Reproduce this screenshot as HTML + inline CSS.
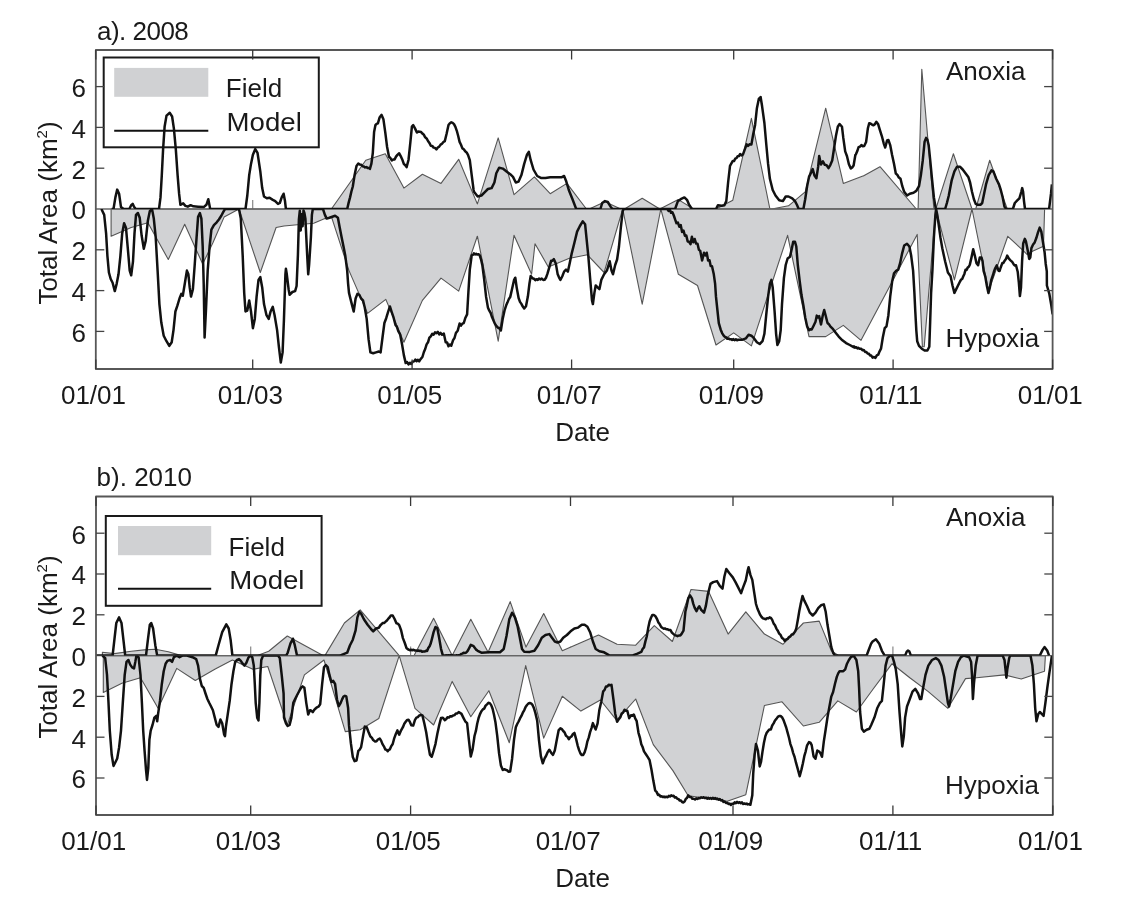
<!DOCTYPE html>
<html><head><meta charset="utf-8"><title>Anoxia and hypoxia area</title>
<style>
html,body{margin:0;padding:0;background:#fff;}
svg{display:block;}
text{font-family:"Liberation Sans", Arial, sans-serif;font-size:26px;fill:#1a1a1a;}
</style></head><body>
<svg width="1130" height="910" viewBox="0 0 1130 910">
<rect width="1130" height="910" fill="#fff"/>
<rect x="103.7" y="57.5" width="215.1" height="89.8" fill="#fff" stroke="#1a1a1a" stroke-width="2"/>
<rect x="114.2" y="67.9" width="94.1" height="28.9" fill="#d0d1d3"/>
<line x1="114.2" y1="130.8" x2="208.3" y2="130.8" stroke="#111" stroke-width="2"/>
<text x="225.8" y="97.0">Field</text>
<text x="226.6" y="130.8" textLength="75.2" lengthAdjust="spacingAndGlyphs">Model</text>
<line x1="252.7" y1="209.0" x2="252.7" y2="200.0" stroke="#888" stroke-width="1.2"/>
<line x1="412.1" y1="209.0" x2="412.1" y2="200.0" stroke="#888" stroke-width="1.2"/>
<line x1="571.6" y1="209.0" x2="571.6" y2="200.0" stroke="#888" stroke-width="1.2"/>
<line x1="733.7" y1="209.0" x2="733.7" y2="200.0" stroke="#888" stroke-width="1.2"/>
<line x1="893.1" y1="209.0" x2="893.1" y2="200.0" stroke="#888" stroke-width="1.2"/>
<polygon points="331.4,209.0 331.4,209.0 365.8,160.2 385.3,153.7 403.9,188.1 422.4,174.2 441.0,183.4 458.7,159.3 477.3,203.9 477.4,203.9 498.2,137.9 514.0,194.6 534.4,176.9 550.2,193.7 566.9,183.4 586.4,209.0 589.2,209.0 605.0,201.7 620.8,209.0 624.5,209.0 642.2,198.3 659.8,209.0 678.3,199.6 693.7,209.0 716.0,209.0 732.8,200.2 751.4,118.4 769.9,209.0 771.8,209.0 788.5,205.8 805.2,191.8 825.7,108.2 843.3,183.4 862.9,176.0 863.3,176.0 880.0,166.7 916.3,209.0 918.1,209.0 921.8,69.2 933.9,209.0 935.8,209.0 953.4,153.7 972.0,209.0 975.7,209.0 989.7,160.2 1007.3,209.0 1007.3,209.0" fill="#d1d2d4" stroke="#555" stroke-width="1.1" stroke-linejoin="round"/>
<polygon points="111.1,209.0 111.1,209.0 111.1,236.2 131.2,227.5 147.9,222.7 168.3,259.5 184.7,224.2 202.7,264.1 212.9,242.7 224.1,217.1 239.0,209.0 260.3,272.5 276.1,227.5 284.0,226.0 302.6,224.2 313.7,223.2 324.9,218.6 331.4,216.7 349.0,270.6 367.6,313.4 385.8,299.4 403.9,342.2 422.4,300.4 441.0,278.1 458.7,291.1 477.3,236.2 477.4,236.2 498.2,341.2 514.0,235.3 531.6,274.3 535.0,243.7 548.3,266.9 568.8,258.5 587.4,254.8 604.1,272.5 622.7,209.0 642.2,304.1 660.8,209.0 678.4,274.3 697.5,285.5 716.0,345.0 733.7,332.9 751.4,345.9 787.6,235.3 809.0,336.6 825.7,336.6 843.3,325.4 861.0,340.3 891.2,283.6 917.2,234.4 922.4,346.8 924.2,346.8 935.8,209.0 954.4,279.9 972.0,209.0 988.6,291.2 1007.8,236.3 1023.2,250.6 1027.0,254.4 1031.4,251.7 1043.5,246.2 1044.6,209.0 1044.6,209.0" fill="#d1d2d4" stroke="#555" stroke-width="1.1" stroke-linejoin="round"/>
<line x1="95.8" y1="209.0" x2="1052.6" y2="209.0" stroke="#666" stroke-width="1.4"/>
<clipPath id="caa"><rect x="95.8" y="50.0" width="956.8" height="159.0"/></clipPath>
<clipPath id="cba"><rect x="95.8" y="209.0" width="956.8" height="160.0"/></clipPath>
<path d="M111.7,209.0 L113.5,209.0 L115.4,197.4 L117.2,189.6 L119.1,193.7 L121.0,207.1 L123.7,209.0 L129.3,209.0 L131.2,205.2 L132.7,203.9 L134.0,206.7 L135.8,209.0 L159.0,209.0 L160.5,197.4 L161.8,175.1 L163.1,149.1 L164.6,126.8 L166.5,115.6 L169.8,112.8 L172.1,116.5 L173.9,128.6 L175.8,149.1 L177.6,175.1 L179.1,193.7 L180.4,204.8 L183.2,203.3 L185.4,205.8 L187.8,206.7 L190.6,205.2 L193.4,206.3 L198.1,206.7 L203.7,207.1 L206.4,204.8 L208.3,199.2 L210.2,209.0 L212.9,209.0 L245.5,209.0 L247.3,195.5 L249.2,175.1 L251.0,163.9 L252.9,154.7 L255.3,149.1 L257.5,152.8 L260.3,171.4 L262.2,188.1 L264.0,196.5 L266.8,198.3 L269.6,197.8 L272.4,199.6 L275.2,201.1 L278.0,203.9 L279.8,203.0 L281.7,197.4 L283.6,193.7 L285.0,201.1 L285.9,209.0 L347.2,209.0 L348.6,202.9 L350.0,197.6 L351.4,191.5 L352.8,186.5 L354.6,175.0 L356.5,165.9 L358.3,163.6 L359.7,164.6 L361.1,164.7 L362.5,166.2 L363.9,166.5 L365.1,167.4 L366.4,167.1 L367.6,167.9 L368.8,168.0 L369.9,168.9 L371.4,163.6 L372.8,153.0 L374.1,132.0 L375.4,125.2 L376.6,123.9 L377.9,123.4 L379.7,117.2 L381.6,114.9 L383.4,119.2 L385.3,132.7 L387.1,147.0 L389.0,156.8 L390.4,158.0 L391.8,160.5 L393.2,159.4 L394.6,159.5 L396.0,156.6 L397.4,154.9 L399.2,153.3 L401.1,156.9 L402.5,160.1 L403.9,164.1 L405.3,165.2 L406.6,167.1 L408.5,160.0 L410.4,141.9 L411.9,126.6 L413.2,125.2 L415.0,128.4 L416.9,132.5 L418.3,131.6 L419.7,131.7 L421.1,132.0 L422.4,133.6 L423.9,134.8 L425.2,137.3 L426.6,138.4 L428.0,141.0 L429.4,142.9 L430.8,145.7 L432.2,145.9 L433.6,147.6 L435.0,147.9 L436.4,149.4 L437.8,147.5 L439.2,146.6 L440.6,144.6 L442.0,143.7 L443.4,142.0 L444.8,141.1 L446.6,133.8 L448.5,125.0 L449.9,123.2 L451.3,122.3 L452.6,122.9 L454.0,124.2 L455.4,126.9 L456.8,130.8 L458.2,136.0 L459.6,141.9 L461.0,144.8 L462.4,148.4 L463.8,149.3 L465.2,151.3 L466.6,152.4 L468.0,154.9 L469.8,160.2 L471.7,175.1 L473.6,190.0 L474.0,191.8 L477.7,196.5 L481.4,195.5 L485.1,191.8 L487.9,189.0 L491.6,188.1 L494.4,182.5 L496.3,173.2 L499.1,167.7 L502.8,168.6 L506.5,171.4 L510.2,174.2 L513.0,176.9 L515.8,182.5 L518.6,181.6 L521.4,175.1 L524.2,163.9 L527.0,154.7 L528.8,151.9 L530.7,160.2 L533.5,169.5 L537.2,176.0 L540.9,177.9 L545.5,177.9 L550.2,177.3 L555.8,177.3 L561.4,177.3 L564.1,176.0 L566.0,180.7 L568.8,190.0 L572.5,199.2 L576.2,209.0 L578.1,209.0 L600.4,209.0 L602.2,203.0 L605.0,201.1 L607.8,202.0 L610.6,206.7 L612.5,209.0 L667.7,209.0 L675.1,209.0 L677.9,201.1 L680.7,199.2 L684.4,197.4 L687.2,200.2 L689.1,204.8 L691.9,209.0 L716.0,209.0 L717.9,205.2 L721.6,205.8 L724.4,205.2 L726.3,201.1 L728.1,182.5 L730.0,165.8 L732.8,160.9 L734.0,161.1 L735.2,158.7 L736.5,158.2 L737.7,156.2 L739.0,156.0 L740.2,154.0 L741.6,155.5 L743.0,154.3 L744.8,149.3 L746.7,144.3 L748.1,145.9 L749.5,144.2 L751.4,144.6 L753.2,134.2 L755.1,124.9 L756.9,108.2 L758.8,98.9 L760.6,97.0 L762.1,106.3 L764.4,123.0 L766.2,143.5 L768.1,163.9 L769.9,178.8 L772.7,190.0 L775.5,195.5 L779.2,200.2 L782.9,201.1 L785.7,196.5 L788.5,196.5 L792.2,198.3 L795.0,201.1 L796.9,204.8 L798.7,209.0 L803.4,209.0 L805.2,199.2 L807.1,186.2 L809.0,176.9 L810.8,173.2 L812.7,169.1 L814.5,175.6 L816.4,178.3 L818.2,166.4 L819.2,155.9 L821.0,164.5 L822.9,161.4 L824.8,164.8 L826.6,165.2 L828.5,168.1 L830.3,165.1 L832.2,160.6 L834.0,148.7 L835.9,136.1 L837.8,126.8 L839.6,124.0 L842.0,126.8 L843.3,137.9 L845.2,151.4 L847.0,156.2 L848.9,164.3 L850.8,168.5 L852.2,167.5 L853.6,165.5 L855.4,154.8 L855.9,154.3 L857.2,151.3 L858.6,147.1 L860.0,146.6 L861.4,145.1 L862.8,146.2 L864.2,146.0 L866.1,142.0 L867.9,128.2 L869.2,123.2 L870.4,123.4 L871.6,124.3 L873.5,125.3 L874.9,124.2 L876.3,121.8 L878.2,124.3 L880.0,130.3 L881.9,136.3 L883.7,143.3 L885.2,147.5 L887.1,140.4 L888.4,140.0 L890.2,145.1 L892.1,155.1 L894.0,163.8 L895.8,173.6 L897.2,174.7 L898.6,177.2 L900.5,178.8 L902.3,186.2 L904.2,191.8 L907.0,195.5 L909.8,193.7 L913.5,192.7 L916.3,190.9 L919.0,186.2 L920.9,175.1 L922.8,160.2 L924.6,141.6 L926.1,137.9 L927.4,139.8 L928.7,145.3 L930.2,160.2 L932.0,178.8 L933.9,197.4 L935.8,209.0 L945.1,209.0 L946.9,203.0 L948.8,195.5 L951.6,180.7 L954.4,171.4 L957.1,166.7 L959.9,166.7 L962.7,169.5 L965.5,173.2 L968.3,176.9 L970.1,182.5 L972.0,191.8 L973.9,199.2 L975.7,203.9 L977.6,204.8 L980.4,204.8 L982.2,203.0 L984.1,193.7 L986.0,184.4 L988.7,175.1 L991.5,170.4 L993.4,171.4 L996.2,178.8 L999.0,184.4 L1000.8,190.0 L1002.7,197.4 L1004.5,206.7 L1006.4,209.0 L1012.9,209.0 L1014.8,203.0 L1017.5,200.2 L1019.4,198.3 L1021.3,191.8 L1022.2,188.1 L1023.1,191.8 L1024.0,201.1 L1025.0,209.0 L1049.1,209.0 L1051.0,193.7 L1051.9,184.4" fill="none" stroke="#111" stroke-width="2.5" stroke-linejoin="round" clip-path="url(#caa)"/>
<path d="M101.4,209.0 L104.2,214.9 L106.1,233.4 L107.4,255.8 L108.9,272.5 L110.7,279.0 L112.6,282.7 L114.8,291.1 L116.7,283.6 L118.5,274.3 L120.4,255.8 L122.2,233.4 L124.1,223.2 L126.0,227.9 L127.8,248.3 L129.7,270.6 L131.2,275.3 L133.0,261.3 L134.5,233.4 L136.0,214.9 L137.9,213.0 L139.7,217.7 L141.6,235.3 L143.8,248.7 L145.7,240.9 L147.9,220.4 L149.8,211.2 L152.0,209.0 L153.8,218.6 L155.7,237.2 L157.6,270.6 L159.4,304.1 L161.3,322.6 L163.7,335.7 L166.5,341.2 L169.3,345.9 L171.7,342.2 L173.5,330.1 L175.4,311.5 L177.3,305.9 L179.5,298.5 L181.3,293.9 L182.8,295.7 L185.1,281.8 L186.9,270.6 L188.4,274.3 L189.7,287.4 L191.0,296.6 L192.9,289.2 L194.7,265.0 L196.6,237.2 L198.1,216.7 L199.9,213.0 L201.4,218.6 L202.7,246.5 L203.7,283.6 L204.6,337.5 L205.9,311.5 L207.7,270.6 L209.6,246.5 L211.4,229.7 L213.9,225.1 L216.7,222.3 L218.9,219.5 L221.3,215.8 L223.2,212.1 L225.0,209.0 L239.0,209.0 L240.8,218.6 L242.7,255.8 L244.2,292.9 L245.5,311.5 L247.3,310.6 L249.2,300.4 L251.0,311.5 L252.9,328.2 L254.8,318.9 L256.6,296.6 L258.5,279.9 L260.3,277.1 L262.2,287.4 L264.0,304.1 L266.5,315.2 L268.7,318.9 L270.6,311.5 L272.8,306.9 L274.6,315.2 L277.1,330.1 L278.9,346.8 L280.8,362.6 L282.6,352.4 L283.9,320.8 L285.4,274.3 L285.9,268.8 L286.8,274.3 L288.6,289.2 L289.6,294.8 L292.4,292.0 L295.1,291.1 L296.6,286.0 L297.9,255.4 L298.9,219.4 L299.8,210.8 L300.7,230.5 L301.6,214.3 L302.6,226.3 L303.5,210.4 L304.4,213.0 L305.4,218.6 L307.2,255.8 L308.2,274.3 L309.1,265.0 L310.9,237.2 L311.9,214.9 L312.8,209.0 L323.0,209.0 L324.9,214.9 L326.7,218.6 L329.5,217.7 L332.3,216.7 L335.1,215.8 L337.9,217.7 L339.8,227.9 L341.6,237.2 L343.5,246.5 L345.3,255.8 L347.2,270.6 L348.1,283.6 L349.0,292.9 L351.8,304.1 L353.7,311.5 L355.6,298.5 L357.4,293.9 L359.3,294.8 L361.1,298.5 L363.0,300.4 L364.8,307.8 L366.7,318.9 L368.6,339.4 L370.4,352.4 L373.2,353.3 L376.0,352.4 L378.8,351.5 L380.6,352.4 L382.5,337.5 L384.4,323.0 L386.2,318.2 L388.1,311.9 L389.9,306.5 L391.8,312.3 L393.6,317.7 L395.5,324.9 L396.9,326.8 L398.3,331.1 L400.1,334.3 L402.0,344.0 L403.9,355.4 L405.7,363.1 L407.1,362.1 L408.5,364.4 L409.9,362.8 L411.3,364.0 L412.7,361.7 L414.1,361.4 L415.3,359.6 L416.6,361.2 L417.8,359.8 L419.2,361.3 L420.6,359.1 L422.4,357.0 L423.9,352.0 L425.2,349.0 L426.6,344.4 L428.0,342.3 L429.4,337.7 L430.8,336.3 L432.2,333.8 L433.6,334.6 L435.0,332.3 L436.4,333.1 L437.8,331.8 L439.2,334.4 L440.6,332.9 L442.0,334.7 L443.8,333.5 L445.7,342.3 L447.1,342.5 L448.5,346.3 L449.9,344.6 L451.3,345.7 L453.1,340.1 L454.5,338.0 L455.9,333.0 L457.8,330.4 L459.6,323.5 L461.0,325.6 L462.4,323.6 L463.8,323.0 L465.2,318.3 L467.1,314.4 L468.4,292.0 L469.8,269.7 L471.7,255.4 L473.6,254.4 L474.0,253.3 L475.1,254.4 L476.2,253.8 L477.4,254.6 L478.5,254.2 L479.6,255.2 L481.0,259.3 L482.4,265.6 L484.2,279.6 L486.1,296.9 L487.9,307.4 L489.3,310.7 L490.7,313.0 L492.1,317.3 L493.5,320.6 L494.9,323.7 L496.3,325.9 L497.7,327.5 L499.1,328.0 L500.9,330.4 L502.8,318.4 L504.7,309.8 L506.1,305.6 L507.4,302.6 L508.9,298.9 L510.2,297.1 L512.1,288.7 L514.0,280.2 L515.3,277.7 L516.7,287.6 L518.6,298.0 L520.0,301.9 L521.4,303.9 L522.8,306.6 L524.2,308.5 L526.0,306.2 L527.9,296.3 L529.4,284.0 L530.7,275.9 L532.5,278.2 L533.9,278.7 L535.3,280.2 L536.6,279.2 L537.8,279.9 L539.0,278.5 L540.4,279.4 L541.8,278.6 L543.2,279.9 L544.6,279.8 L546.0,277.7 L547.4,273.9 L549.3,267.4 L551.1,260.8 L552.5,260.7 L553.9,259.2 L555.8,263.4 L557.6,273.9 L559.0,277.3 L560.4,279.9 L562.3,276.2 L564.1,271.6 L566.0,269.7 L567.9,271.6 L569.7,263.2 L571.6,253.9 L574.4,242.7 L577.1,231.6 L579.9,226.0 L582.7,221.4 L585.1,224.2 L586.4,237.2 L588.3,255.8 L590.1,278.1 L592.0,300.4 L592.9,304.1 L594.4,292.9 L595.7,285.5 L597.6,287.4 L599.4,289.2 L601.3,279.9 L604.1,274.3 L606.9,270.6 L609.7,261.3 L611.5,270.6 L613.0,274.3 L615.2,265.0 L617.1,259.5 L619.0,246.5 L620.8,227.9 L622.7,211.2 L623.6,209.0 L667.3,209.0 L668.5,210.9 L669.8,209.4 L671.0,212.7 L672.4,212.2 L673.8,215.5 L675.1,219.4 L676.5,223.2 L677.9,222.6 L679.3,226.7 L680.7,225.0 L682.1,231.9 L683.5,230.6 L684.9,235.7 L686.3,235.6 L687.7,241.5 L689.1,241.8 L690.5,244.2 L691.9,236.8 L693.3,242.2 L694.7,239.0 L696.1,243.6 L697.5,243.7 L698.9,249.8 L700.2,250.7 L702.1,260.4 L704.0,252.8 L705.4,255.5 L706.7,252.7 L708.1,260.5 L709.5,260.3 L710.7,266.1 L712.0,266.2 L713.8,274.3 L715.1,283.6 L716.0,296.9 L717.5,311.0 L718.8,323.1 L720.7,329.7 L722.1,333.1 L723.5,335.4 L724.7,336.8 L726.0,337.1 L727.2,338.8 L728.4,338.4 L729.7,339.3 L730.9,339.2 L732.1,339.9 L733.4,339.1 L734.6,340.2 L735.9,339.3 L737.1,340.2 L738.3,339.8 L742.0,339.8 L745.8,338.4 L748.6,334.7 L751.4,335.7 L754.1,338.4 L756.9,342.2 L759.7,344.0 L762.5,341.2 L764.4,333.8 L766.2,315.2 L768.1,296.6 L769.9,283.6 L771.4,279.9 L772.7,287.4 L774.6,311.5 L776.1,333.8 L777.4,345.0 L779.2,341.2 L780.7,330.1 L782.0,304.1 L783.9,278.1 L785.7,265.0 L787.6,258.5 L790.0,256.7 L791.9,248.3 L793.2,241.8 L795.0,241.8 L796.3,246.5 L797.8,265.0 L799.7,281.1 L801.5,295.1 L803.4,305.4 L805.2,317.5 L807.1,326.2 L809.0,330.3 L810.4,329.2 L811.7,329.5 L813.6,325.7 L815.5,321.7 L816.8,315.6 L818.0,317.5 L819.2,316.2 L821.0,324.4 L822.9,314.8 L824.2,310.0 L825.7,315.8 L827.5,323.0 L828.9,324.2 L830.3,326.4 L833.1,329.2 L835.9,332.9 L838.7,336.6 L842.4,340.3 L846.1,343.1 L849.8,345.0 L853.6,347.2 L854.0,346.3 L855.1,347.7 L856.2,347.2 L857.4,348.4 L858.5,347.8 L859.6,348.8 L861.0,348.7 L862.4,350.2 L863.8,350.0 L865.1,351.9 L866.4,352.0 L867.6,353.5 L868.9,353.8 L870.1,355.5 L871.3,355.6 L872.6,357.6 L874.0,357.0 L875.4,357.9 L876.8,355.4 L878.2,354.7 L879.6,351.3 L881.0,348.7 L882.8,337.5 L884.7,328.2 L886.5,326.4 L888.4,315.2 L890.2,296.6 L892.1,281.8 L894.0,273.4 L896.4,270.6 L898.2,269.7 L900.1,263.2 L902.0,253.9 L904.2,245.5 L907.0,243.7 L909.4,246.5 L911.2,255.8 L913.1,270.6 L914.4,292.9 L915.3,311.5 L916.3,330.1 L917.2,341.2 L919.0,345.9 L921.8,348.7 L924.6,350.5 L927.4,350.5 L929.3,346.8 L930.2,320.8 L931.1,292.9 L932.4,270.6 L933.9,237.2 L935.4,214.9 L936.1,209.0 L937.3,214.9 L938.6,224.2 L940.4,237.2 L942.3,248.3 L945.1,261.3 L947.9,272.5 L950.6,276.2 L952.5,285.5 L954.4,292.9 L960.0,281.5 L961.1,279.6 L962.2,279.0 L963.3,276.3 L964.4,273.9 L965.5,269.7 L966.6,269.9 L967.7,267.6 L968.8,266.8 L969.9,264.4 L971.5,257.4 L973.2,249.3 L974.8,255.6 L976.5,263.2 L978.1,265.3 L979.8,257.6 L981.4,257.5 L982.5,260.9 L983.6,270.9 L985.3,276.7 L986.9,286.0 L988.4,293.1 L989.7,288.2 L991.3,279.8 L993.0,275.0 L994.1,271.1 L995.2,268.3 L996.8,265.3 L998.5,270.7 L999.6,271.0 L1000.7,267.5 L1002.3,263.1 L1003.4,263.0 L1004.5,260.9 L1006.1,258.7 L1007.2,255.6 L1008.9,258.7 L1010.5,260.3 L1012.2,261.9 L1013.9,264.6 L1014.9,265.5 L1016.0,265.3 L1017.7,271.7 L1018.8,282.0 L1019.9,296.1 L1021.0,287.5 L1022.1,260.8 L1023.2,243.5 L1024.8,238.9 L1025.9,241.2 L1027.6,249.7 L1029.2,258.9 L1030.3,257.4 L1031.4,248.1 L1033.1,244.5 L1034.7,242.4 L1036.4,237.8 L1038.0,232.4 L1039.7,227.6 L1041.3,231.5 L1043.0,242.2 L1044.6,252.3 L1045.7,263.7 L1046.8,271.4 L1046.9,285.5 L1049.3,293.7 L1051.3,305.3 L1052.6,314.3" fill="none" stroke="#111" stroke-width="2.5" stroke-linejoin="round" clip-path="url(#cba)"/>
<rect x="95.8" y="50.0" width="956.8" height="319.0" fill="none" stroke="#575757" stroke-width="1.8" stroke-linejoin="round"/>
<line x1="95.8" y1="86.6" x2="104.3" y2="86.6" stroke="#444" stroke-width="1.3"/>
<line x1="1044.1" y1="86.6" x2="1052.6" y2="86.6" stroke="#444" stroke-width="1.3"/>
<text x="86" y="97.0" text-anchor="end">6</text>
<line x1="95.8" y1="331.4" x2="104.3" y2="331.4" stroke="#444" stroke-width="1.3"/>
<line x1="1044.1" y1="331.4" x2="1052.6" y2="331.4" stroke="#444" stroke-width="1.3"/>
<text x="86" y="341.8" text-anchor="end">6</text>
<line x1="95.8" y1="127.4" x2="104.3" y2="127.4" stroke="#444" stroke-width="1.3"/>
<line x1="1044.1" y1="127.4" x2="1052.6" y2="127.4" stroke="#444" stroke-width="1.3"/>
<text x="86" y="137.8" text-anchor="end">4</text>
<line x1="95.8" y1="290.6" x2="104.3" y2="290.6" stroke="#444" stroke-width="1.3"/>
<line x1="1044.1" y1="290.6" x2="1052.6" y2="290.6" stroke="#444" stroke-width="1.3"/>
<text x="86" y="301.0" text-anchor="end">4</text>
<line x1="95.8" y1="168.2" x2="104.3" y2="168.2" stroke="#444" stroke-width="1.3"/>
<line x1="1044.1" y1="168.2" x2="1052.6" y2="168.2" stroke="#444" stroke-width="1.3"/>
<text x="86" y="178.6" text-anchor="end">2</text>
<line x1="95.8" y1="249.8" x2="104.3" y2="249.8" stroke="#444" stroke-width="1.3"/>
<line x1="1044.1" y1="249.8" x2="1052.6" y2="249.8" stroke="#444" stroke-width="1.3"/>
<text x="86" y="260.2" text-anchor="end">2</text>
<text x="86" y="219.4" text-anchor="end">0</text>
<line x1="95.8" y1="369.0" x2="95.8" y2="359.5" stroke="#383838" stroke-width="1.3"/>
<line x1="95.8" y1="50.0" x2="95.8" y2="59.5" stroke="#383838" stroke-width="1.3"/>
<text x="93.5" y="404.0" text-anchor="middle">01/01</text>
<line x1="252.7" y1="369.0" x2="252.7" y2="359.5" stroke="#383838" stroke-width="1.3"/>
<line x1="252.7" y1="50.0" x2="252.7" y2="59.5" stroke="#383838" stroke-width="1.3"/>
<text x="250.4" y="404.0" text-anchor="middle">01/03</text>
<line x1="412.1" y1="369.0" x2="412.1" y2="359.5" stroke="#383838" stroke-width="1.3"/>
<line x1="412.1" y1="50.0" x2="412.1" y2="59.5" stroke="#383838" stroke-width="1.3"/>
<text x="409.8" y="404.0" text-anchor="middle">01/05</text>
<line x1="571.6" y1="369.0" x2="571.6" y2="359.5" stroke="#383838" stroke-width="1.3"/>
<line x1="571.6" y1="50.0" x2="571.6" y2="59.5" stroke="#383838" stroke-width="1.3"/>
<text x="569.3" y="404.0" text-anchor="middle">01/07</text>
<line x1="733.7" y1="369.0" x2="733.7" y2="359.5" stroke="#383838" stroke-width="1.3"/>
<line x1="733.7" y1="50.0" x2="733.7" y2="59.5" stroke="#383838" stroke-width="1.3"/>
<text x="731.4" y="404.0" text-anchor="middle">01/09</text>
<line x1="893.1" y1="369.0" x2="893.1" y2="359.5" stroke="#383838" stroke-width="1.3"/>
<line x1="893.1" y1="50.0" x2="893.1" y2="59.5" stroke="#383838" stroke-width="1.3"/>
<text x="890.8" y="404.0" text-anchor="middle">01/11</text>
<line x1="1052.6" y1="369.0" x2="1052.6" y2="359.5" stroke="#383838" stroke-width="1.3"/>
<line x1="1052.6" y1="50.0" x2="1052.6" y2="59.5" stroke="#383838" stroke-width="1.3"/>
<text x="1050.3" y="404.0" text-anchor="middle">01/01</text>
<text x="582.6" y="440.7" text-anchor="middle">Date</text>
<text x="97" y="39.7" textLength="91.8">a). 2008</text>
<text x="946" y="80.4">Anoxia</text>
<text x="945.4" y="347.2">Hypoxia</text>
<text transform="translate(56.8,213.0) rotate(-90)" text-anchor="middle">Total Area (km<tspan font-size="15" dy="-9.5">2</tspan><tspan dy="9.5">)</tspan></text>
<rect x="105.8" y="516" width="215.8" height="89.8" fill="#fff" stroke="#1a1a1a" stroke-width="2"/>
<rect x="118" y="526" width="93.2" height="29.2" fill="#d0d1d3"/>
<line x1="118" y1="588.7" x2="211.2" y2="588.7" stroke="#111" stroke-width="2"/>
<text x="228.5" y="555.8">Field</text>
<text x="229.3" y="589.2" textLength="75.2" lengthAdjust="spacingAndGlyphs">Model</text>
<line x1="250.7" y1="655.6" x2="250.7" y2="646.6" stroke="#888" stroke-width="1.2"/>
<line x1="410.6" y1="655.6" x2="410.6" y2="646.6" stroke="#888" stroke-width="1.2"/>
<line x1="570.5" y1="655.6" x2="570.5" y2="646.6" stroke="#888" stroke-width="1.2"/>
<line x1="733.0" y1="655.6" x2="733.0" y2="646.6" stroke="#888" stroke-width="1.2"/>
<line x1="892.9" y1="655.6" x2="892.9" y2="646.6" stroke="#888" stroke-width="1.2"/>
<polygon points="102.4,655.6 102.4,652.3 114.4,653.6 131.2,651.2 144.2,649.9 155.3,649.3 168.3,651.8 181.3,655.6 257.5,655.6 268.7,651.2 287.3,636.0 323.0,655.6 324.9,655.6 344.4,623.0 360.2,609.9 399.2,655.6 414.1,655.6 433.6,618.3 452.2,655.6 470.8,619.2 488.4,652.7 488.5,651.2 510.2,601.6 526.0,647.1 543.7,613.6 562.3,650.8 598.5,635.0 617.1,644.3 635.7,645.2 654.3,625.7 672.4,641.5 691.0,589.5 708.6,591.4 728.1,634.1 745.8,611.8 764.4,634.1 782.9,644.3 803.4,623.0 819.2,621.1 831.3,650.8 838.7,655.6 849.8,655.6 849.8,655.6" fill="#d1d2d4" stroke="#555" stroke-width="1.1" stroke-linejoin="round"/>
<polygon points="103.3,655.6 103.3,655.6 103.3,692.5 121.9,683.2 140.5,677.7 158.1,708.3 176.7,668.4 195.3,680.5 214.8,669.3 232.4,660.0 252.9,669.3 267.8,666.5 287.3,725.0 304.4,674.9 324.0,660.0 345.3,731.6 360.2,729.7 378.8,718.5 399.2,655.6 415.0,708.3 433.6,725.0 452.2,681.4 470.8,716.7 488.9,690.7 509.3,742.7 525.7,665.6 543.7,738.1 562.3,696.2 580.9,711.1 600.4,700.0 616.7,720.4 635.7,699.0 653.3,744.6 672.9,770.6 688.2,795.7 708.6,798.5 727.2,801.2 745.8,794.7 764.4,705.5 782.0,701.8 803.4,726.0 819.2,722.3 837.8,700.9 856.4,712.0 872.6,689.7 892.1,663.7 909.8,677.7 928.3,691.6 947.9,708.3 965.5,678.6 976.6,677.7 1004.5,674.9 1021.3,679.0 1032.4,675.2 1044.5,671.2 1045.4,655.6 1045.4,655.6" fill="#d1d2d4" stroke="#555" stroke-width="1.1" stroke-linejoin="round"/>
<line x1="96.0" y1="655.6" x2="1052.8" y2="655.6" stroke="#666" stroke-width="1.4"/>
<clipPath id="cab"><rect x="96.0" y="496.5" width="956.8" height="159.1"/></clipPath>
<clipPath id="cbb"><rect x="96.0" y="655.6" width="956.8" height="159.4"/></clipPath>
<path d="M94.0,655.6 L112.6,655.6 L114.4,639.7 L116.3,623.0 L119.1,617.4 L121.5,623.0 L123.4,639.7 L125.2,655.6 L146.0,655.6 L147.9,639.7 L149.8,624.8 L151.2,623.0 L153.1,628.5 L155.3,645.2 L157.2,655.6 L215.7,655.6 L218.5,645.2 L222.2,632.2 L226.3,624.4 L228.7,628.5 L230.6,639.7 L232.4,655.6 L286.2,655.6 L287.7,652.7 L290.5,643.4 L292.9,638.7 L294.8,645.2 L297.0,655.6 L339.8,655.6 L347.2,652.7 L350.0,645.2 L352.8,639.7 L355.6,630.4 L357.4,617.4 L359.3,611.8 L361.1,613.6 L363.9,619.2 L367.6,624.8 L371.4,629.5 L373.2,631.3 L376.0,628.5 L378.8,627.8 L380.2,625.5 L381.6,624.1 L382.8,623.0 L384.0,622.9 L385.3,621.9 L386.7,620.7 L388.1,618.9 L389.5,617.5 L390.9,615.4 L392.7,615.5 L394.6,619.0 L396.4,623.3 L397.8,623.6 L399.2,625.1 L401.1,630.2 L402.9,638.1 L404.8,643.0 L406.6,648.3 L408.5,649.6 L409.8,650.2 L411.0,649.8 L412.2,650.2 L413.5,649.8 L414.7,650.4 L415.9,650.4 L417.2,650.9 L418.4,650.5 L419.7,651.1 L420.9,650.8 L422.1,651.8 L423.4,651.4 L424.6,651.6 L425.9,650.8 L427.1,651.0 L428.3,648.0 L429.6,646.2 L430.8,643.3 L432.2,637.9 L433.6,632.1 L435.5,627.0 L437.3,628.3 L439.2,638.1 L441.0,648.8 L442.9,655.6 L443.9,655.4 L445.0,655.6 L446.1,655.3 L447.1,655.6 L448.2,655.2 L449.2,655.6 L450.3,655.2 L451.3,655.6 L452.4,655.2 L453.4,655.6 L454.5,655.5 L455.5,655.6 L456.6,655.2 L457.6,655.6 L458.7,655.3 L459.9,655.1 L461.2,653.9 L462.4,653.6 L463.6,652.8 L464.9,653.0 L466.1,652.6 L467.5,651.2 L468.9,648.6 L470.8,644.9 L473.6,646.2 L476.4,649.9 L477.7,650.8 L481.4,652.7 L488.9,652.3 L500.0,652.3 L503.7,649.0 L506.5,636.0 L509.3,619.2 L512.1,612.7 L514.9,617.4 L517.7,626.7 L519.5,636.0 L522.0,649.0 L524.2,651.8 L529.8,651.9 L534.4,650.8 L538.1,645.2 L541.8,637.8 L545.5,635.0 L549.3,634.1 L552.0,637.8 L554.8,641.5 L557.6,642.5 L560.4,641.5 L563.2,637.8 L566.9,635.0 L570.6,631.3 L574.4,628.5 L578.1,627.6 L581.8,624.8 L584.6,624.8 L587.4,626.7 L590.1,632.2 L592.9,641.5 L595.7,649.0 L599.4,651.2 L604.1,652.3 L609.7,655.6 L632.0,655.6 L637.5,653.6 L641.3,651.9 L642.6,649.0 L644.0,647.4 L645.4,641.4 L646.8,636.2 L648.2,628.1 L649.6,621.5 L651.0,617.7 L652.4,614.9 L653.8,614.9 L655.2,615.9 L657.0,619.0 L658.4,622.5 L659.8,624.3 L661.2,627.0 L662.6,628.0 L663.8,628.7 L664.9,628.4 L666.3,629.3 L667.7,629.3 L669.1,630.1 L670.5,630.1 L671.9,632.6 L673.3,633.9 L674.7,635.1 L676.1,635.5 L677.5,636.2 L678.9,635.5 L680.3,635.5 L681.6,633.9 L683.5,630.7 L685.4,611.5 L686.8,605.6 L688.2,598.5 L690.0,595.4 L691.9,598.4 L693.3,603.9 L694.7,607.8 L696.5,611.1 L697.9,608.2 L699.3,606.2 L701.2,609.9 L704.0,612.7 L705.8,606.2 L707.7,595.1 L710.5,583.9 L713.2,582.1 L717.0,581.1 L719.8,585.8 L722.5,588.6 L724.4,576.5 L726.3,569.0 L729.0,572.8 L732.8,577.4 L735.5,582.1 L738.3,587.6 L741.1,593.2 L743.0,587.6 L745.8,580.2 L747.6,570.9 L748.6,567.2 L750.4,574.9 L752.3,579.9 L754.1,591.9 L756.0,604.0 L757.4,608.5 L758.8,611.7 L760.2,614.9 L761.6,617.0 L763.0,618.4 L764.4,618.8 L765.8,619.2 L767.1,618.1 L768.4,618.4 L769.6,617.3 L770.9,617.8 L772.2,619.9 L773.6,623.4 L775.0,625.3 L776.4,628.6 L777.8,630.7 L779.2,633.6 L780.6,634.9 L782.0,638.0 L783.4,638.9 L784.8,641.0 L786.2,639.4 L787.6,639.0 L789.0,637.1 L790.4,636.3 L791.6,634.6 L792.9,634.4 L794.1,632.9 L795.2,631.3 L796.3,628.4 L798.2,617.8 L799.4,610.4 L800.6,604.4 L802.5,596.0 L804.3,600.6 L807.1,606.2 L809.9,612.7 L812.7,615.5 L815.5,612.7 L818.2,608.1 L821.0,605.3 L823.8,604.4 L825.7,611.8 L827.5,624.8 L829.4,636.0 L831.3,647.1 L833.1,652.7 L835.0,655.6 L866.6,655.6 L868.4,650.8 L871.2,643.4 L872.6,641.5 L875.9,639.3 L879.1,643.4 L881.9,650.8 L884.7,655.6 L905.1,655.6 L906.6,651.9 L907.9,650.5 L909.4,651.6 L910.9,655.6 L1039.8,655.6 L1042.6,649.9 L1044.5,647.1 L1047.3,650.8 L1049.1,655.6" fill="none" stroke="#111" stroke-width="2.5" stroke-linejoin="round" clip-path="url(#cab)"/>
<path d="M102.4,655.6 L105.2,658.1 L107.0,674.9 L108.5,702.8 L109.8,730.6 L111.7,754.8 L113.5,765.9 L115.4,762.2 L117.2,758.5 L119.1,747.4 L121.0,730.6 L122.8,702.8 L124.7,674.9 L126.5,661.9 L128.4,660.0 L130.2,664.6 L132.1,667.4 L134.0,668.4 L135.3,661.9 L136.4,655.6 L138.6,657.2 L140.5,674.9 L141.9,702.8 L143.2,730.6 L144.6,751.1 L146.0,769.6 L147.0,779.9 L148.3,767.8 L149.4,739.9 L150.7,730.6 L152.5,725.0 L154.4,717.6 L156.3,715.8 L157.2,721.3 L158.1,713.9 L160.0,700.9 L161.8,684.2 L163.7,671.2 L165.6,663.7 L167.4,660.9 L170.2,660.0 L172.1,661.9 L173.9,657.2 L176.7,655.6 L179.5,657.2 L182.3,655.6 L186.9,655.6 L192.5,657.2 L196.2,659.1 L198.1,665.6 L199.9,678.6 L201.8,686.0 L203.7,687.9 L205.5,693.5 L207.4,699.0 L209.2,702.8 L211.1,706.5 L212.9,710.2 L214.8,717.6 L216.7,725.0 L218.5,726.9 L220.4,719.5 L222.2,723.2 L224.1,734.4 L225.0,736.2 L225.9,726.9 L227.8,713.9 L229.7,700.9 L231.5,684.2 L233.4,671.2 L235.2,661.9 L237.1,660.0 L239.0,659.1 L240.8,660.9 L242.7,663.7 L244.5,665.6 L246.4,662.8 L248.2,658.1 L250.1,655.6 L252.3,657.2 L253.8,665.6 L254.8,684.2 L255.7,702.8 L257.2,717.6 L258.5,720.4 L259.4,702.8 L260.3,674.9 L261.3,660.0 L263.1,655.6 L278.0,655.6 L279.8,658.1 L281.7,674.9 L283.6,693.5 L284.0,717.6 L285.9,723.2 L287.7,726.0 L289.6,725.0 L291.4,717.6 L293.3,702.8 L295.1,699.0 L297.0,695.3 L299.8,690.0 L301.2,687.7 L302.6,686.4 L304.4,687.8 L306.3,703.1 L308.2,714.6 L310.0,710.3 L311.4,710.8 L312.8,712.1 L314.2,709.9 L315.6,708.5 L317.0,707.3 L318.4,706.7 L320.2,704.2 L322.1,684.3 L324.0,667.2 L325.8,665.0 L327.7,667.0 L329.5,675.2 L331.4,682.0 L333.2,680.9 L335.1,684.0 L337.0,699.5 L338.8,706.2 L340.7,702.9 L342.1,699.4 L343.5,696.5 L344.9,695.8 L346.3,696.4 L348.1,708.0 L349.0,725.4 L350.9,743.4 L352.8,757.0 L354.6,761.2 L356.5,760.5 L358.3,750.9 L359.7,749.6 L361.1,747.1 L363.0,736.4 L364.8,726.6 L366.7,727.2 L368.6,732.3 L370.4,736.6 L371.8,737.7 L373.2,740.1 L375.1,741.5 L376.5,741.2 L377.9,739.5 L379.7,738.5 L381.1,740.6 L382.5,744.1 L383.9,746.3 L385.3,749.5 L386.5,749.7 L387.7,751.2 L388.8,749.8 L389.9,749.3 L391.3,746.1 L392.7,744.0 L394.1,738.7 L395.5,734.8 L397.4,730.4 L399.2,734.7 L401.1,730.3 L402.9,727.2 L404.3,723.8 L405.7,721.8 L407.1,719.9 L408.5,719.8 L409.9,721.9 L411.3,725.2 L413.2,725.6 L415.0,719.8 L416.4,717.6 L417.8,717.1 L419.2,715.5 L420.6,715.1 L422.4,715.4 L424.3,723.3 L426.2,732.2 L428.0,743.8 L429.9,754.6 L431.7,756.8 L433.6,750.7 L435.5,743.8 L437.3,734.1 L439.2,725.3 L441.0,718.1 L442.9,717.8 L444.8,720.1 L446.1,719.3 L447.5,717.2 L448.9,717.6 L450.3,716.2 L451.7,716.4 L453.1,715.5 L454.5,715.1 L455.9,713.5 L457.3,713.5 L458.7,712.0 L461.5,713.9 L463.3,717.6 L465.2,721.3 L467.1,723.2 L468.9,739.9 L470.8,756.5 L472.6,749.4 L474.5,736.0 L475.9,730.9 L477.2,723.8 L478.6,718.0 L480.0,714.1 L481.4,711.2 L482.8,709.4 L484.2,708.6 L485.6,705.6 L487.0,704.3 L488.4,702.8 L489.8,703.1 L491.2,705.1 L492.6,708.8 L494.0,714.7 L495.4,721.9 L497.2,735.7 L499.1,753.5 L500.9,765.4 L502.8,770.0 L504.2,769.3 L505.6,769.8 L507.0,770.2 L508.4,771.7 L510.2,771.4 L512.1,758.7 L514.0,739.7 L515.8,727.2 L517.2,724.0 L518.6,721.5 L520.0,718.4 L521.4,715.9 L522.8,712.7 L524.2,710.3 L525.6,706.9 L527.0,705.0 L528.4,703.5 L529.8,703.0 L531.1,703.4 L532.5,704.9 L533.9,708.1 L535.3,712.6 L537.2,720.7 L539.0,740.3 L540.9,756.3 L542.8,763.3 L544.6,758.3 L546.0,756.0 L547.4,752.7 L549.3,749.7 L551.1,752.7 L553.0,754.9 L554.8,750.5 L556.7,740.3 L558.6,730.4 L560.4,728.2 L561.8,729.1 L563.2,731.0 L564.6,732.4 L566.0,735.8 L567.4,736.7 L568.8,739.2 L570.2,737.3 L571.6,736.4 L573.0,733.9 L574.4,732.9 L576.2,739.4 L577.6,745.3 L579.0,749.9 L580.4,753.4 L581.8,755.1 L583.2,754.9 L584.6,752.4 L586.0,747.9 L587.4,741.3 L588.8,737.4 L590.1,732.1 L591.5,728.1 L592.9,723.1 L594.3,726.6 L595.7,729.5 L597.6,723.4 L599.4,709.7 L601.3,701.5 L603.2,691.3 L604.6,689.9 L606.0,686.4 L607.3,686.6 L608.7,684.8 L610.1,685.3 L611.5,684.9 L613.4,699.2 L615.2,713.7 L617.1,721.8 L619.0,718.9 L620.4,717.2 L621.7,713.5 L623.1,712.5 L624.5,709.7 L625.9,710.8 L627.3,710.7 L629.2,718.2 L631.0,715.3 L632.4,715.8 L633.8,714.5 L635.2,718.3 L636.6,720.8 L638.5,732.8 L639.9,737.6 L641.3,744.2 L642.6,747.0 L644.0,751.4 L645.9,754.2 L647.8,757.1 L649.6,760.2 L651.5,769.8 L653.3,780.6 L655.2,790.6 L656.6,791.9 L658.0,794.9 L659.2,794.8 L660.5,796.6 L661.7,796.2 L662.8,797.1 L663.9,796.6 L664.9,797.3 L666.3,796.8 L667.7,797.2 L668.9,795.9 L670.0,796.5 L671.2,795.3 L672.4,796.0 L673.6,795.8 L674.8,797.4 L676.1,797.3 L677.3,798.7 L678.6,799.1 L679.8,800.6 L681.0,800.6 L682.3,802.2 L683.5,802.4 L684.7,801.3 L685.9,798.7 L687.0,797.9 L688.2,795.3 L689.6,797.1 L691.0,796.9 L692.3,798.8 L693.7,798.7 L695.0,799.5 L696.2,798.3 L697.5,798.9 L698.7,798.0 L699.9,798.2 L701.2,797.3 L702.4,797.8 L703.6,797.2 L704.9,798.1 L706.0,797.6 L707.1,798.7 L708.2,797.8 L709.3,798.7 L710.5,798.0 L711.6,798.9 L712.8,797.9 L714.0,798.7 L715.1,798.0 L716.3,799.0 L717.4,798.6 L718.6,799.7 L719.8,799.0 L721.0,800.5 L722.2,800.1 L723.5,801.9 L724.7,801.5 L726.0,803.0 L727.2,802.7 L728.4,804.0 L729.7,803.6 L730.9,805.0 L732.1,803.7 L733.4,804.0 L734.6,802.4 L735.9,803.3 L737.1,801.9 L738.3,802.9 L739.6,802.2 L740.8,803.2 L742.0,802.4 L743.2,804.0 L744.4,803.4 L745.5,804.0 L746.7,803.6 L747.9,804.4 L749.2,804.1 L750.4,804.8 L752.3,795.2 L753.2,774.0 L754.7,754.1 L756.0,743.9 L757.9,750.5 L759.7,766.4 L761.0,762.0 L762.5,751.6 L763.9,743.0 L765.3,736.4 L766.7,732.8 L768.1,730.9 L769.5,729.4 L770.9,729.4 L772.2,725.5 L773.6,723.4 L775.0,720.5 L776.4,718.9 L777.8,716.9 L779.2,716.0 L780.6,716.0 L782.0,717.2 L783.4,719.8 L784.8,723.6 L786.2,727.5 L787.6,732.6 L789.0,737.8 L790.4,744.1 L791.8,747.9 L793.2,753.1 L794.6,757.0 L796.0,762.7 L797.8,769.1 L799.7,776.3 L801.5,769.4 L802.9,763.3 L804.3,756.2 L805.7,751.3 L807.1,745.3 L809.0,742.1 L810.4,742.6 L811.7,745.1 L813.6,756.4 L815.5,758.7 L817.3,750.5 L819.2,751.5 L820.6,753.4 L822.0,756.8 L823.8,741.6 L825.7,729.2 L827.5,717.3 L829.4,706.6 L831.3,696.6 L833.1,692.0 L835.0,683.7 L836.8,676.9 L838.2,673.4 L839.6,671.2 L843.3,671.2 L845.2,669.3 L847.0,663.7 L848.9,660.0 L850.8,657.2 L853.6,655.6 L856.4,660.0 L858.2,671.2 L859.1,687.9 L860.1,712.0 L861.9,728.8 L863.8,731.6 L866.6,729.7 L869.4,728.8 L871.2,725.0 L874.4,717.6 L877.2,708.3 L880.0,702.8 L881.9,700.9 L883.7,684.2 L885.6,665.6 L887.5,658.1 L890.2,655.6 L892.1,655.6 L894.0,661.9 L895.8,669.3 L897.7,684.2 L899.5,712.0 L901.4,736.2 L902.3,746.4 L903.8,736.2 L905.1,717.6 L907.0,706.5 L909.8,699.0 L912.5,691.6 L915.3,688.8 L918.1,693.5 L920.0,699.0 L921.3,699.0 L922.8,689.7 L925.5,674.9 L928.3,665.6 L932.0,660.0 L935.8,658.1 L938.6,660.0 L941.4,665.6 L944.1,676.7 L946.0,689.7 L947.9,702.8 L949.1,706.5 L950.6,699.0 L952.5,687.9 L955.3,671.2 L958.1,661.9 L960.9,657.2 L963.6,655.6 L969.2,657.2 L971.1,661.9 L972.0,674.9 L972.9,699.0 L973.9,684.2 L975.7,665.6 L977.6,655.6 L1002.7,655.6 L1004.5,660.0 L1005.5,669.3 L1006.4,677.7 L1007.3,669.3 L1009.2,658.1 L1010.1,655.6 L1030.5,655.6 L1032.4,665.6 L1033.9,684.2 L1035.2,708.3 L1036.5,721.3 L1038.3,713.9 L1039.8,712.0 L1041.7,713.9 L1043.6,715.8 L1045.4,702.8 L1047.3,687.9 L1049.1,674.9 L1051.0,661.9 L1051.9,655.6" fill="none" stroke="#111" stroke-width="2.5" stroke-linejoin="round" clip-path="url(#cbb)"/>
<rect x="96.0" y="496.5" width="956.8" height="318.5" fill="none" stroke="#575757" stroke-width="1.8" stroke-linejoin="round"/>
<line x1="96.0" y1="533.2" x2="104.5" y2="533.2" stroke="#444" stroke-width="1.3"/>
<line x1="1044.3" y1="533.2" x2="1052.8" y2="533.2" stroke="#444" stroke-width="1.3"/>
<text x="86" y="543.6" text-anchor="end">6</text>
<line x1="96.0" y1="778.0" x2="104.5" y2="778.0" stroke="#444" stroke-width="1.3"/>
<line x1="1044.3" y1="778.0" x2="1052.8" y2="778.0" stroke="#444" stroke-width="1.3"/>
<text x="86" y="788.4" text-anchor="end">6</text>
<line x1="96.0" y1="574.0" x2="104.5" y2="574.0" stroke="#444" stroke-width="1.3"/>
<line x1="1044.3" y1="574.0" x2="1052.8" y2="574.0" stroke="#444" stroke-width="1.3"/>
<text x="86" y="584.4" text-anchor="end">4</text>
<line x1="96.0" y1="737.2" x2="104.5" y2="737.2" stroke="#444" stroke-width="1.3"/>
<line x1="1044.3" y1="737.2" x2="1052.8" y2="737.2" stroke="#444" stroke-width="1.3"/>
<text x="86" y="747.6" text-anchor="end">4</text>
<line x1="96.0" y1="614.8" x2="104.5" y2="614.8" stroke="#444" stroke-width="1.3"/>
<line x1="1044.3" y1="614.8" x2="1052.8" y2="614.8" stroke="#444" stroke-width="1.3"/>
<text x="86" y="625.2" text-anchor="end">2</text>
<line x1="96.0" y1="696.4" x2="104.5" y2="696.4" stroke="#444" stroke-width="1.3"/>
<line x1="1044.3" y1="696.4" x2="1052.8" y2="696.4" stroke="#444" stroke-width="1.3"/>
<text x="86" y="706.8" text-anchor="end">2</text>
<text x="86" y="666.0" text-anchor="end">0</text>
<line x1="96.0" y1="815.0" x2="96.0" y2="805.5" stroke="#383838" stroke-width="1.3"/>
<line x1="96.0" y1="496.5" x2="96.0" y2="506.0" stroke="#383838" stroke-width="1.3"/>
<text x="93.7" y="850.0" text-anchor="middle">01/01</text>
<line x1="250.7" y1="815.0" x2="250.7" y2="805.5" stroke="#383838" stroke-width="1.3"/>
<line x1="250.7" y1="496.5" x2="250.7" y2="506.0" stroke="#383838" stroke-width="1.3"/>
<text x="248.4" y="850.0" text-anchor="middle">01/03</text>
<line x1="410.6" y1="815.0" x2="410.6" y2="805.5" stroke="#383838" stroke-width="1.3"/>
<line x1="410.6" y1="496.5" x2="410.6" y2="506.0" stroke="#383838" stroke-width="1.3"/>
<text x="408.3" y="850.0" text-anchor="middle">01/05</text>
<line x1="570.5" y1="815.0" x2="570.5" y2="805.5" stroke="#383838" stroke-width="1.3"/>
<line x1="570.5" y1="496.5" x2="570.5" y2="506.0" stroke="#383838" stroke-width="1.3"/>
<text x="568.2" y="850.0" text-anchor="middle">01/07</text>
<line x1="733.0" y1="815.0" x2="733.0" y2="805.5" stroke="#383838" stroke-width="1.3"/>
<line x1="733.0" y1="496.5" x2="733.0" y2="506.0" stroke="#383838" stroke-width="1.3"/>
<text x="730.7" y="850.0" text-anchor="middle">01/09</text>
<line x1="892.9" y1="815.0" x2="892.9" y2="805.5" stroke="#383838" stroke-width="1.3"/>
<line x1="892.9" y1="496.5" x2="892.9" y2="506.0" stroke="#383838" stroke-width="1.3"/>
<text x="890.6" y="850.0" text-anchor="middle">01/11</text>
<line x1="1052.8" y1="815.0" x2="1052.8" y2="805.5" stroke="#383838" stroke-width="1.3"/>
<line x1="1052.8" y1="496.5" x2="1052.8" y2="506.0" stroke="#383838" stroke-width="1.3"/>
<text x="1050.5" y="850.0" text-anchor="middle">01/01</text>
<text x="582.6" y="886.7" text-anchor="middle">Date</text>
<text x="96.6" y="486.4">b). 2010</text>
<text x="946" y="525.8">Anoxia</text>
<text x="945" y="794.2">Hypoxia</text>
<text transform="translate(56.8,647.0) rotate(-90)" text-anchor="middle">Total Area (km<tspan font-size="15" dy="-9.5">2</tspan><tspan dy="9.5">)</tspan></text>
</svg>
</body></html>
